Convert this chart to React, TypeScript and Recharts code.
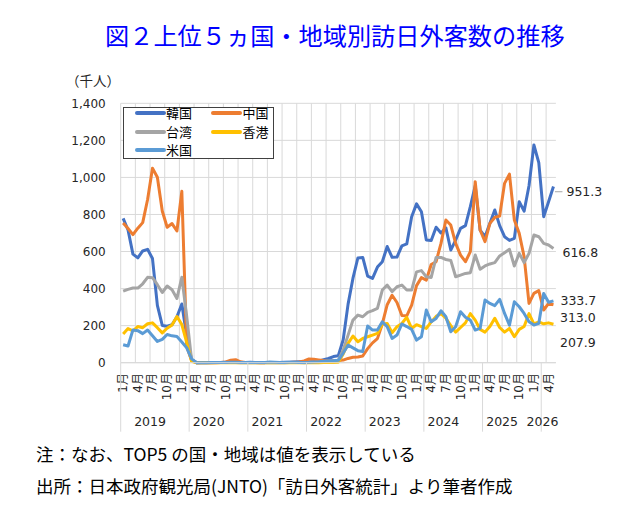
import React from 'react';
import { LineChart, Line, XAxis, YAxis, CartesianGrid, LabelList } from 'recharts';

// ---------- data (thousand persons), monthly Jan 2019 – May 2026 ----------
const YEARS = ['2019', '2020', '2021', '2022', '2023', '2024', '2025', '2026'];
const MONTH_TICKS = ['1月', '4月', '7月', '10月'];
const Y_TICKS = [0, 200, 400, 600, 800, 1000, 1200, 1400];

const KOREA = [
  779, 716, 586, 566, 603, 612, 562, 309, 201, 197, 205, 248,
  317, 144, 17, 0.4, 0.5, 0.5, 0.6, 0.9, 1.3, 2.8, 4.2, 3.4,
  1.9, 1.7, 1.8, 1.7, 1.4, 0.7, 0.6, 1.0, 1.4, 1.8, 2.2, 4.1,
  5.7, 3.9, 4.2, 5.9, 8.5, 16.7, 22.7, 33.0, 37.3, 124, 316, 456,
  565, 568, 467, 455, 516, 545, 627, 569, 570, 631, 641, 788,
  857, 815, 662, 659, 731, 700, 728, 608, 662, 725, 740, 842,
  955, 716, 680, 752, 824, 740, 680, 660, 671, 869, 818, 955,
  1175, 1080, 788, 869, 951.3,
];
const CHINA = [
  754, 724, 691, 726, 756, 881, 1050, 1001, 819, 731, 751, 711,
  925, 87, 10, 0.2, 0.1, 0.2, 0.2, 0.3, 1.0, 4, 13, 16,
  5, 0.8, 0.7, 0.5, 0.3, 0.4, 1.5, 1.0, 1.0, 1.0, 1.5, 2.5,
  3.5, 10, 20, 18, 15, 12, 10, 10, 12, 14, 23, 29,
  31, 36, 76, 107, 130, 209, 313, 364, 325, 255, 253, 311,
  416, 459, 446, 530, 545, 644, 770, 743, 644, 581, 545, 599,
  977, 716, 653, 752, 784, 792, 968, 1018, 770, 698, 572, 320,
  374, 389, 284, 320, 313.0,
];
const TAIWAN = [
  386, 396, 403, 403, 426, 461, 459, 421, 379, 414, 394, 347,
  461, 250, 14.5, 0.4, 0.3, 0.2, 0.3, 0.5, 0.7, 1.3, 1.4, 0.7,
  0.3, 0.4, 0.3, 0.2, 0.1, 0.2, 0.3, 0.3, 0.4, 0.3, 0.6, 0.6,
  0.6, 0.4, 0.6, 1.0, 1.8, 3.0, 6.3, 9.0, 13.4, 68, 149, 230,
  257, 248, 272, 281, 293, 392, 419, 383, 410, 419, 392, 392,
  490, 497, 464, 460, 568, 568, 557, 552, 464, 473, 482, 486,
  581, 504, 522, 533, 540, 576, 594, 612, 522, 590, 540, 590,
  689, 680, 644, 635, 616.8,
];
const HONGKONG = [
  155, 184, 172, 195, 189, 210, 215, 189, 161, 186, 204, 249,
  206, 108, 7, 0.1, 0.1, 0.1, 0.2, 0.2, 0.2, 0.2, 0.3, 0.3,
  0.1, 0.1, 0.1, 0.1, 0.1, 0.1, 0.2, 0.2, 0.2, 0.2, 0.2, 0.3,
  0.3, 0.2, 0.2, 0.3, 0.3, 0.6, 0.8, 1.1, 2.2, 47, 104, 144,
  113, 131, 140, 149, 158, 209, 212, 162, 194, 212, 245, 185,
  205, 195, 185, 220, 250, 265, 240, 200, 165, 190, 215, 265,
  230, 180, 165, 195, 240, 190, 165, 185, 140, 180, 195, 265,
  210, 220, 210, 215, 207.9,
];
const USA = [
  97, 90, 177, 173, 157, 176, 145, 115, 126, 152, 145, 141,
  112, 80, 21, 0.3, 0.4, 0.4, 0.9, 1.0, 1.2, 1.6, 1.9, 1.8,
  1.2, 1.0, 1.4, 1.2, 1.0, 1.6, 3.5, 3.0, 1.2, 1.7, 2.5, 2.0,
  1.5, 1.3, 2.2, 3.9, 4.9, 8.0, 11.0, 11.0, 13.0, 52, 95, 80,
  65, 60, 198, 176, 176, 221, 194, 131, 149, 209, 195, 180,
  122, 140, 284, 221, 239, 280, 248, 167, 194, 275, 245, 230,
  176, 185, 338, 320, 308, 342, 266, 203, 329, 302, 266, 221,
  203, 212, 374, 326, 333.7,
];

const N = KOREA.length;
const data = KOREA.map((_, i) => ({
  i,
  korea: KOREA[i],
  china: CHINA[i],
  taiwan: TAIWAN[i],
  hongkong: HONGKONG[i],
  usa: USA[i],
}));

// ---------- series styling ----------
const SERIES = [
  { key: 'korea', name: '韓国', color: '#4472C4', dx: 13, dy: 5.3, leader: true, col: 0, row: 0 },
  { key: 'china', name: '中国', color: '#ED7D31', dx: 6.5, dy: 13, leader: false, col: 1, row: 0 },
  { key: 'taiwan', name: '台湾', color: '#A5A5A5', dx: 9, dy: 4.3, leader: false, col: 0, row: 1 },
  { key: 'hongkong', name: '香港', color: '#FFC000', dx: 6.5, dy: 18, leader: false, col: 1, row: 1 },
  { key: 'usa', name: '米国', color: '#5B9BD5', dx: 7, dy: 0, leader: false, col: 0, row: 2 },
];

// ---------- layout ----------
const W = 640;
const H = 505;
const MARGIN = { top: 103.3, right: 84.1, bottom: 62.3, left: 60.7 };
const Y_AXIS_W = 60;
const X_AXIS_H = 80;
const PLOT_W = W - MARGIN.left - MARGIN.right - Y_AXIS_W;
const STEP = PLOT_W / N;
const FONT = '"DejaVu Sans", "Noto Sans CJK JP", sans-serif';
const JFONT = '"Noto Sans CJK JP", "DejaVu Sans", sans-serif';
const GRID = '#D9D9D9';
const TEXT = '#262626';

const GRID_BOUNDS: number[] = [];
for (let b = -0.5; b < N - 0.5; b += 3) GRID_BOUNDS.push(b);

function XTick(props: any) {
  const { x, y, payload } = props;
  const i = Number(payload?.value);
  const parts: React.ReactNode[] = [];
  if (i % 3 === 0) {
    const ly = y + 10.3;
    parts.push(
      <text
        key="m"
        x={x}
        y={ly}
        transform={`rotate(-90 ${x} ${ly})`}
        textAnchor="end"
        dominantBaseline="central"
        fontSize={12}
        fill={TEXT}
        fontFamily={FONT}
      >
        {MONTH_TICKS[(i % 12) / 3]}
      </text>
    );
  }
  if (i === 0 || (i >= 14 && (i - 14) % 12 === 0)) {
    const sx = x - STEP / 2;
    parts.push(<line key="s" x1={sx} x2={sx} y1={y} y2={y + 69} stroke={GRID} strokeWidth={1} />);
  }
  if (i % 12 === 6) {
    parts.push(
      <text key="y" x={x - STEP / 2} y={y + 58.3} textAnchor="middle" dominantBaseline="central"
        fontSize={12.5} fill={TEXT} fontFamily={FONT}>
        {YEARS[Math.floor(i / 12)]}
      </text>
    );
  }
  if (i === N - 1) {
    parts.push(
      <text key="y2" x={x + STEP / 2 + 2.5} y={y + 58.3} textAnchor="end" dominantBaseline="central"
        fontSize={12.5} fill={TEXT} fontFamily={FONT}>
        {YEARS[YEARS.length - 1]}
      </text>
    );
  }
  return <g>{parts}</g>;
}

function makeEndLabel(s: any) {
  return (p: any) => {
    if (p.index !== N - 1) return null;
    const x = Number(p.x ?? p.viewBox?.x);
    const y = Number(p.y ?? p.viewBox?.y);
    const lx = x + s.dx;
    const ly = y + s.dy;
    return (
      <g>
        {s.leader && <line x1={x + 1.5} x2={lx - 4} y1={ly} y2={ly} stroke="#A6A6A6" strokeWidth={1} />}
        <text x={lx} y={ly} dominantBaseline="central" fontSize={12.5} fill={TEXT} fontFamily={FONT}>
          {Number(p.value).toFixed(1)}
        </text>
      </g>
    );
  };
}

function vGen(props: any) {
  const { xAxis, offset } = props || {};
  if (xAxis && typeof xAxis.scale === 'function') {
    return GRID_BOUNDS.map((b) => xAxis.scale(b));
  }
  const left = offset?.left ?? MARGIN.left + Y_AXIS_W;
  const width = offset?.width ?? PLOT_W;
  return GRID_BOUNDS.map((b) => left + ((b + 0.5) / N) * width);
}

function Legend() {
  const boxL = 123.3;
  const boxT = 106.7;
  const bw = 1.5;
  const rows = [113.7, 132.3, 150.3];
  const lineX = [135.7, 212];
  const textX = [166.5, 243];
  return (
    <div
      style={{
        position: 'absolute',
        left: boxL,
        top: boxT,
        width: 150.7,
        height: 52.6,
        border: `${bw}px solid #404040`,
        background: '#fff',
        boxSizing: 'border-box',
      }}
    >
      {SERIES.map((s) => (
        <React.Fragment key={s.key}>
          <div
            style={{
              position: 'absolute',
              left: lineX[s.col] - boxL - bw,
              top: rows[s.row] - boxT - bw - 1.75,
              width: 31,
              height: 3.5,
              borderRadius: 2,
              background: s.color,
            }}
          />
          <div
            style={{
              position: 'absolute',
              left: textX[s.col] - boxL - bw,
              top: rows[s.row] - boxT - bw - 8,
              fontSize: 13,
              lineHeight: '16px',
              fontFamily: JFONT,
              color: '#000',
              whiteSpace: 'nowrap',
            }}
          >
            {s.name}
          </div>
        </React.Fragment>
      ))}
    </div>
  );
}

export default function App() {
  return (
    <div style={{ position: 'absolute', left: 0, top: 0, width: W, height: H, background: '#fff', overflow: 'hidden' }}>
      <div
        style={{
          position: 'absolute',
          left: 105,
          top: 23,
          fontSize: 24.2,
          lineHeight: '24px',
          color: '#0000FF',
          fontFamily: JFONT,
          whiteSpace: 'nowrap',
        }}
      >
        図２上位５ヵ国・地域別訪日外客数の推移
      </div>
      <div
        style={{
          position: 'absolute',
          left: 66,
          top: 72,
          fontSize: 13.5,
          lineHeight: '16px',
          color: TEXT,
          fontFamily: JFONT,
          whiteSpace: 'nowrap',
        }}
      >
        （千人）
      </div>
      <div style={{ position: 'absolute', left: 0, top: 0 }}>
        <LineChart width={W} height={H} data={data} margin={MARGIN}>
          <CartesianGrid stroke={GRID} strokeWidth={1} verticalCoordinatesGenerator={vGen} />
          <XAxis
            dataKey="i"
            type="number"
            domain={[-0.5, N - 0.5]}
            ticks={data.map((d) => d.i)}
            interval={0}
            tick={(p: any) => <XTick {...p} />}
            tickLine={false}
            tickSize={0}
            tickMargin={0}
            axisLine={{ stroke: GRID, strokeWidth: 1 }}
            height={X_AXIS_H}
            allowDataOverflow
          />
          <YAxis
            type="number"
            domain={[0, 1400]}
            ticks={Y_TICKS}
            interval={0}
            tickFormatter={(v: number) => v.toLocaleString('en-US')}
            axisLine={false}
            tickLine={false}
            tickSize={0}
            tickMargin={15}
            width={Y_AXIS_W}
            tick={{ fontSize: 12, fill: TEXT, fontFamily: FONT }}
          />
          {SERIES.map((s) => (
            <Line
              key={s.key}
              type="linear"
              dataKey={s.key}
              name={s.name}
              stroke={s.color}
              strokeWidth={3}
              strokeLinejoin="round"
              dot={false}
              activeDot={false}
              isAnimationActive={false}
            >
              <LabelList dataKey={s.key} content={makeEndLabel(s)} />
            </Line>
          ))}
        </LineChart>
      </div>
      <Legend />
      <div
        style={{
          position: 'absolute',
          left: 36,
          top: 444.5,
          fontSize: 17.5,
          lineHeight: '18px',
          color: '#000',
          fontFamily: JFONT,
          whiteSpace: 'nowrap',
        }}
      >
        注：なお、TOP5 の国・地域は値を表示している
      </div>
      <div
        style={{
          position: 'absolute',
          left: 36,
          top: 477,
          fontSize: 17.5,
          lineHeight: '18px',
          color: '#000',
          fontFamily: JFONT,
          whiteSpace: 'nowrap',
        }}
      >
        出所：日本政府観光局(JNTO)「訪日外客統計」より筆者作成
      </div>
    </div>
  );
}
